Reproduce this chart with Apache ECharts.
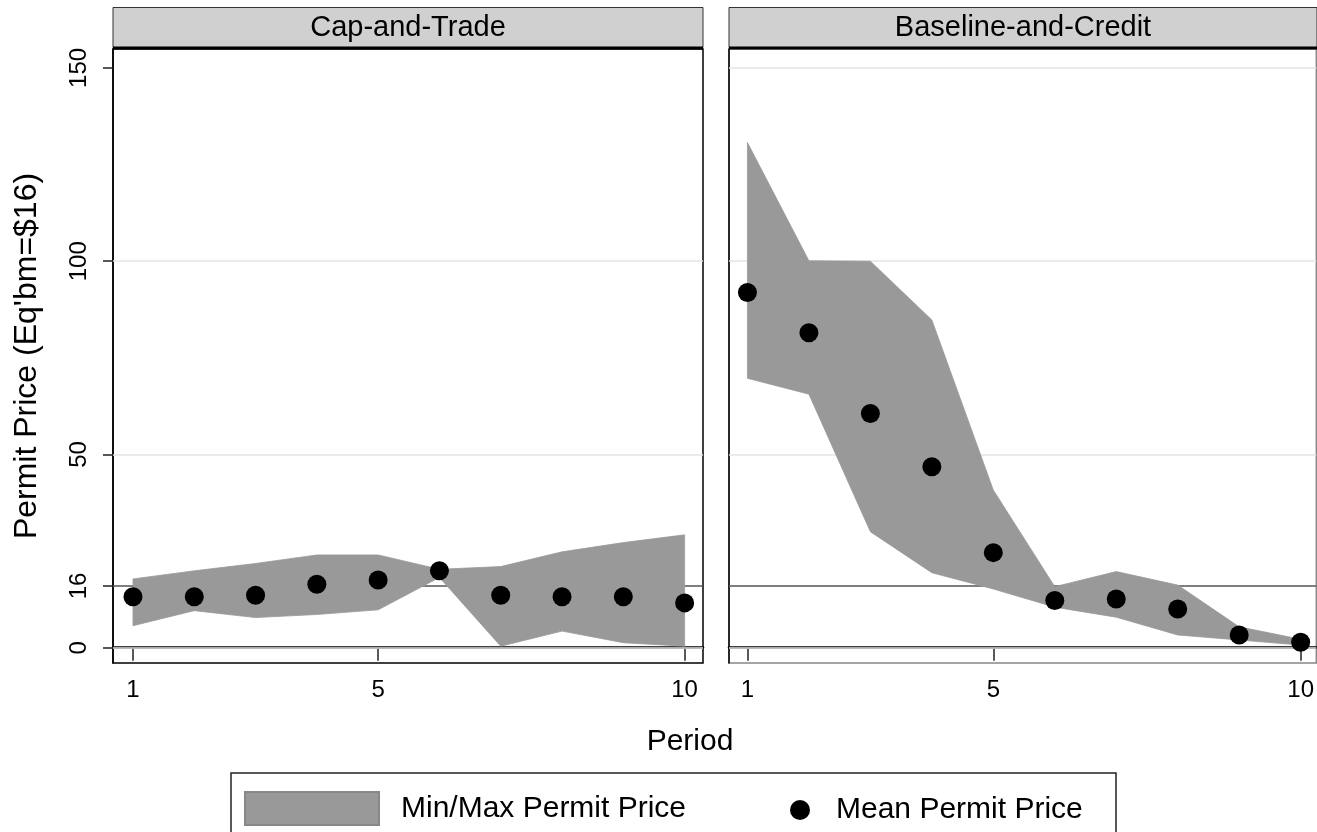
<!DOCTYPE html>
<html><head><meta charset="utf-8">
<script src="https://cdn.jsdelivr.net/npm/echarts@6/dist/echarts.min.js"></script>
<style>html,body{margin:0;padding:0;background:#fff}#c{width:1317px;height:832px}</style>
</head><body><div id="c"></div>
<script>
// ---- data ----
const periods = [1, 2, 3, 4, 5, 6, 7, 8, 9, 10];
const panelTitles = ['Cap-and-Trade', 'Baseline-and-Credit'];
// Cap-and-Trade
const ctMin  = [5.7, 9.6, 7.8, 8.6, 9.8, 18.2, 0.4, 4.3, 1.3, 0.4];
const ctMax  = [17.8, 19.9, 21.8, 24.0, 24.0, 20.3, 21.0, 24.8, 27.2, 29.2];
const ctMean = [13.2, 13.2, 13.6, 16.4, 17.5, 19.9, 13.6, 13.2, 13.2, 11.6];
// Baseline-and-Credit
const bcMin  = [69.7, 65.6, 30.0, 19.4, 15.2, 10.5, 7.9, 3.3, 2.0, 0.7];
const bcMax  = [130.7, 100.1, 100.0, 84.8, 40.8, 15.8, 19.7, 16.2, 5.4, 2.2];
const bcMean = [91.9, 81.5, 60.6, 46.8, 24.6, 12.2, 12.6, 10.0, 3.3, 1.4];
// ticks / reference
const yTicks = [0, 16, 50, 100, 150];
const xTicks = [1, 5, 10];
const refLine = 16;
const gridLinesLeft = [0, 50, 100];
const gridLinesRight = [0, 50, 100, 150];

const FONT = '"Liberation Sans", Arial, sans-serif';
const BAND = '#999999';
const grids = [
  {left: 113, top: 49, width: 590, height: 614},
  {left: 729, top: 49, width: 588, height: 614}
];
const xRanges = [[0.674, 10.30], [0.70, 10.255]];
const yRange = [-3.95, 154.9];

const mins = [ctMin, bcMin], maxs = [ctMax, bcMax], means = [ctMean, bcMean];
const gl = [gridLinesLeft, gridLinesRight];

const series = [];
for (let i = 0; i < 2; i++) {
  // invisible carrier for grid / reference lines (drawn beneath the band)
  series.push({
    name: 'lines' + i, type: 'line', xAxisIndex: i, yAxisIndex: i,
    data: [], symbol: 'none', silent: true, z: 1,
    markLine: {
      silent: true, symbol: 'none', z: 1, label: {show: false}, animation: false,
      data: gl[i].map(v => ({yAxis: v, lineStyle: {color: '#e4e4e4', width: 1.5, type: 'solid'}}))
        .concat([{yAxis: refLine, lineStyle: {color: '#555', width: 1.5, type: 'solid'}}])
    }
  });
  // min/max band as a polygon through the axis scales
  const mn = mins[i], mx = maxs[i];
  series.push({
    name: 'Min/Max Permit Price', type: 'custom', xAxisIndex: i, yAxisIndex: i,
    data: periods.map((p, k) => [p, mn[k], mx[k]]),
    itemStyle: {color: BAND}, z: 2, silent: true,
    renderItem: function (params, api) {
      if (params.dataIndex !== 0) return null;
      const top = periods.map((p, k) => api.coord([p, mx[k]]));
      const bot = periods.map((p, k) => api.coord([p, mn[k]])).reverse();
      return {type: 'polygon', shape: {points: top.concat(bot)},
        style: {fill: BAND, stroke: BAND, lineWidth: 0.8}};
    }
  });
  series.push({
    name: 'Mean Permit Price', type: 'scatter', xAxisIndex: i, yAxisIndex: i,
    data: periods.map((p, k) => [p, means[i][k]]),
    symbol: 'circle', symbolSize: 19, itemStyle: {color: '#000', opacity: 1}, z: 3
  });
}

const graphic = [];
for (let i = 0; i < 2; i++) {
  const g = grids[i];
  graphic.push({type: 'rect', shape: {x: g.left, y: 7.5, width: g.width, height: 40},
    style: {fill: '#d0d0d0', stroke: '#333', lineWidth: 1}, silent: true});
  graphic.push({type: 'rect', shape: {x: g.left, y: 46.5, width: g.width, height: 3},
    style: {fill: '#000'}, silent: true});
  graphic.push({type: 'text', x: g.left + g.width / 2, y: 28,
    style: {text: panelTitles[i], fill: '#000', font: '29px ' + FONT, textAlign: 'center', textVerticalAlign: 'middle'}, silent: true});
}
graphic.push({type: 'text', x: 690, y: 742,
  style: {text: 'Period', fill: '#000', font: '30px ' + FONT, textAlign: 'center', textVerticalAlign: 'middle'}, silent: true});
graphic.push({type: 'rect', shape: {x: 231, y: 773, width: 885, height: 80},
  style: {fill: 'none', stroke: '#222', lineWidth: 1.5}, silent: true, z: -1});

const option = {
  animation: false,
  backgroundColor: '#fff',
  textStyle: {fontFamily: FONT},
  grid: grids.map((g, i) => ({...g, show: true, borderColor: i === 0 ? '#000' : '#888', borderWidth: 1.5, backgroundColor: '#fff'})),
  xAxis: [0, 1].map(i => ({
    type: 'value', gridIndex: i, min: xRanges[i][0], max: xRanges[i][1],
    axisLine: {show: true, lineStyle: {color: '#000', width: 2.5}},
    axisTick: {show: true, customValues: xTicks, length: 13, lineStyle: {color: '#222', width: 1.5}},
    axisLabel: {show: true, customValues: xTicks, fontSize: 24, color: '#000', margin: 15, fontFamily: FONT},
    splitLine: {show: false}
  })),
  yAxis: [0, 1].map(i => ({
    type: 'value', gridIndex: i, min: yRange[0], max: yRange[1],
    name: i === 0 ? "Permit Price (Eq'bm=$16)" : '',
    nameLocation: 'middle', nameRotate: 90, nameGap: 70,
    nameTextStyle: {fontSize: 32, color: '#000', fontFamily: FONT},
    axisLine: {show: true, lineStyle: {color: '#000', width: 1.5}},
    axisTick: {show: i === 0, customValues: yTicks, length: 10, lineStyle: {color: '#222', width: 1.5}},
    axisLabel: {show: i === 0, customValues: yTicks, rotate: 90, fontSize: 24, color: '#000', margin: 22, fontFamily: FONT},
    splitLine: {show: false}
  })),
  legend: [
    {data: [{name: 'Min/Max Permit Price', icon: 'rect'}], left: 239, top: 786, itemWidth: 134, itemHeight: 33,
     itemStyle: {color: BAND, borderColor: '#888', borderWidth: 2},
     textStyle: {fontSize: 30, color: '#000', fontFamily: FONT, padding: [0, 0, 0, 17]}, selectedMode: false},
    {data: [{name: 'Mean Permit Price', icon: 'circle'}], left: 785, top: 790, itemWidth: 20, itemHeight: 20,
     itemStyle: {color: '#000', opacity: 1},
     textStyle: {fontSize: 30, color: '#000', fontFamily: FONT, padding: [0, 0, 0, 21]}, selectedMode: false}
  ],
  graphic: graphic,
  series: series
};
const chart = echarts.init(document.getElementById('c'));
chart.setOption(option);
</script></body></html>
